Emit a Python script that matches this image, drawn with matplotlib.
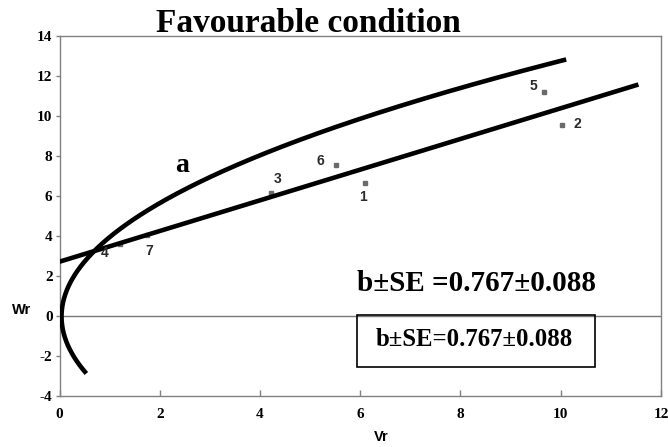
import numpy as np
import matplotlib
matplotlib.use("Agg")
import matplotlib.pyplot as plt
from matplotlib.patches import Rectangle

# ---- data ----
parents = ["1", "2", "3", "4", "5", "6", "7"]
vr_vals = [6.10, 10.03, 4.22, 1.21, 9.67, 5.52, 1.75]
wr_vals = [6.68, 9.58, 6.18, 3.63, 11.23, 7.58, 4.08]
# label offsets in points (dx, dy)
label_offsets = [(-1.5, -10), (11, 0.5), (5, 10), (-11, -6.5), (-7.5, 4.5), (-11.5, 3), (1.5, -11.5)]

reg_intercept = 2.74
reg_slope = 0.767
reg_vr_range = [0.0, 11.55]

vp = 16.4                 # limiting parabola Wr^2 = Vp * Vr
parabola_wr_range = [-2.85, 12.85]

x_ticks = [0, 2, 4, 6, 8, 10, 12]
y_ticks = [-4, -2, 0, 2, 4, 6, 8, 10, 12, 14]

title = "Favourable condition"
stat_text = "b\u00b1SE =0.767\u00b10.088"
box_text = "b\u00b1SE=0.767\u00b10.088"

serif = ["Liberation Serif", "DejaVu Serif"]
sans = ["Liberation Sans", "DejaVu Sans"]

fig = plt.figure(figsize=(6.68, 4.47), dpi=100)
ax = fig.add_axes([0.0891, 0.113, 0.9004, 0.8054])
ax.set_xlim(0, 12)
ax.set_ylim(-4, 14)

for s in ax.spines.values():
    s.set_color("#808080")
    s.set_linewidth(1.0)

# zero line
ax.axhline(0, color="#7a7a7a", lw=1.0, zorder=1)

# points
ax.plot(vr_vals, wr_vals, ls="none", marker="s", ms=2.4, color="#6a6a6a", zorder=2)
for name, x, y, (dx, dy) in zip(parents, vr_vals, wr_vals, label_offsets):
    ax.annotate(name, (x, y), xytext=(dx, dy), textcoords="offset points",
                ha="center", va="center", fontsize=10, family=sans,
                color="#2a2a2a", fontweight="bold", zorder=4)

# regression line
xr = np.array(reg_vr_range)
ax.plot(xr, reg_intercept + reg_slope * xr, color="black", lw=3.3,
        solid_capstyle="butt", zorder=3)

# limiting parabola
wr_curve = np.linspace(parabola_wr_range[0], parabola_wr_range[1], 400)
ax.plot(wr_curve ** 2 / vp + 0.04, wr_curve, color="black", lw=3.3,
        solid_capstyle="butt", zorder=3)

# texts
ax.text(2.45, 7.22, "a", fontsize=20, fontweight="bold", family=serif,
        ha="center", va="baseline")
ax.text(5.94, 1.27, stat_text, fontsize=21, fontweight="bold", family=serif,
        ha="left", va="baseline")
ax.add_patch(Rectangle((5.94, -2.52), 10.69 - 5.94, 2.52 + 0.05, fill=False,
                       ec="black", lw=1.2, zorder=3))
ax.text(6.30, -1.475, box_text, fontsize=17.8, fontweight="bold", family=serif,
        ha="left", va="baseline")

# ticks
ax.set_xticks(x_ticks)
ax.set_yticks(y_ticks)
ax.set_xticklabels([str(t) for t in x_ticks])
ax.set_yticklabels([str(t) for t in y_ticks])
ax.tick_params(axis="x", direction="in", length=4, width=1, color="#808080", pad=8.5)
ax.tick_params(axis="y", direction="out", length=3, width=1, color="#808080", pad=2)
for lab in ax.get_xticklabels() + ax.get_yticklabels():
    lab.set_family(serif)
    lab.set_fontweight("bold")
    lab.set_fontsize(11)

fig.text(22 / 668, 1 - 310 / 447, "Wr", fontsize=10.5, fontweight="bold",
         family=sans, ha="center", va="center")
fig.text(381 / 668, 1 - 437 / 447, "Vr", fontsize=10.5, fontweight="bold",
         family=sans, ha="center", va="center")
fig.text(308 / 668, 1 - 32 / 447, title, fontsize=24, fontweight="bold",
         family=serif, ha="center", va="baseline")

fig.savefig("out.png", dpi=100)
